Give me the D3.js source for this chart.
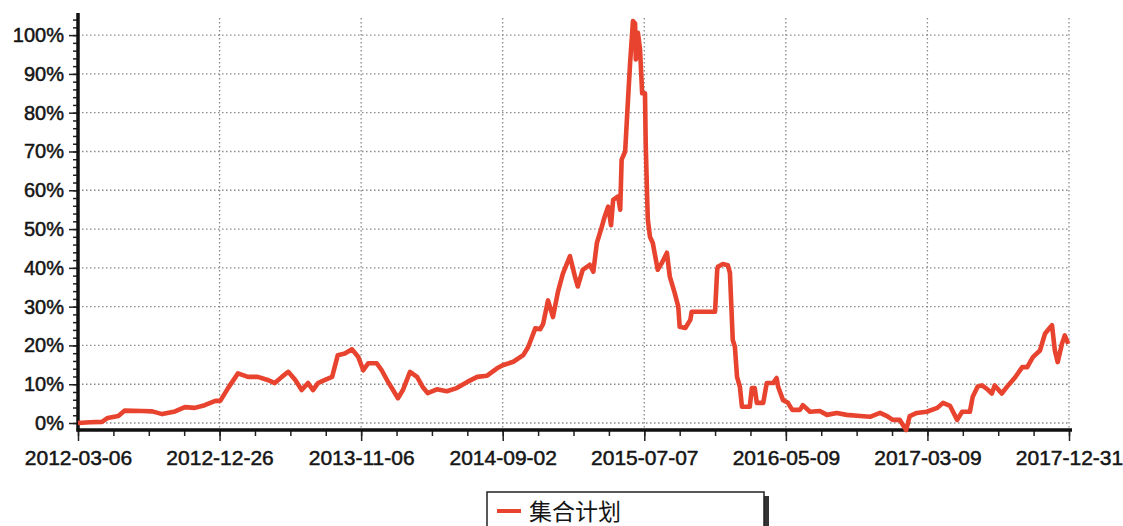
<!DOCTYPE html>
<html lang="zh">
<head>
<meta charset="utf-8">
<title>集合计划</title>
<script src="https://cdn.jsdelivr.net/npm/d3@7"></script>
<style>
body { margin: 0; background: #fff; }
svg { display: block; }
.tick text { font-family: "Liberation Sans", Arial, sans-serif; fill: #151515; stroke: #151515; stroke-width: 0.5; }
.grid line { stroke: #8a8a8a; stroke-width: 1.3; stroke-dasharray: 1.5,2.5; }
.line { fill: none; stroke: #e8432e; stroke-width: 4.6; stroke-linejoin: round; }
</style>
</head>
<body>
<script>

// trading-day index (0 = 2012-03-06, 1400 = 2017-12-31)
var days = [0, 17, 34, 42, 57, 66, 90, 105, 119, 137, 151, 165, 179, 194, 201, 212, 226, 240, 254, 268,
  278, 288, 297, 307, 316, 325, 332, 339, 349, 359, 367, 377, 387, 396, 403, 410, 422, 429, 438, 445,
  452, 459, 469, 479, 487, 494, 507, 521, 535, 550, 564, 578, 592, 600, 615, 629, 636, 646, 653, 657,
  664, 671, 678, 685, 695, 702, 706, 713, 723, 728, 733, 740, 744, 749, 753, 756, 763, 766, 768, 773,
  777, 780, 784, 787, 788, 791, 794, 797, 801, 802, 804, 805, 808, 812, 819, 825, 832, 836, 843, 848,
  850, 858, 865, 867, 900, 903, 904, 911, 918, 921, 925, 928, 931, 935, 938, 949, 952, 956, 959, 968,
  973, 982, 987, 989, 996, 1003, 1009, 1020, 1024, 1034, 1048, 1058, 1072, 1086, 1105, 1119, 1133, 1143, 1151, 1161,
  1170, 1175, 1185, 1199, 1214, 1222, 1232, 1242, 1249, 1260, 1264, 1271, 1277, 1284, 1291, 1295, 1305, 1314, 1324, 1334,
  1341, 1349, 1359, 1366, 1370, 1376, 1380, 1384, 1390, 1394, 1399];

// cumulative return, %
var returns = [0.0, 0.2, 0.3, 1.3, 1.8, 3.2, 3.1, 3.0, 2.3, 3.0, 4.1, 3.9, 4.6, 5.7, 5.7, 9.0, 12.8, 11.9, 11.9, 11.1,
  10.3, 11.9, 13.2, 11.1, 8.5, 10.3, 8.5, 10.3, 11.1, 11.9, 17.5, 17.9, 19.0, 17.0, 13.6, 15.4, 15.4, 13.6, 10.6, 8.5,
  6.4, 8.5, 13.2, 11.9, 9.3, 7.7, 8.7, 8.2, 9.0, 10.6, 11.9, 12.2, 14.1, 14.9, 15.8, 17.5, 19.6, 24.4, 24.2, 25.5,
  31.6, 27.3, 33.8, 38.5, 43.0, 37.8, 35.2, 39.5, 40.8, 39.0, 46.4, 50.6, 53.2, 55.8, 51.0, 57.5, 58.4, 55.0, 67.9, 70.0,
  83.4, 92.9, 103.6, 103.0, 93.7, 100.6, 96.3, 85.0, 85.0, 72.2, 58.4, 52.4, 48.0, 46.4, 39.5, 41.3, 43.9, 37.8, 33.5, 30.0,
  24.8, 24.5, 26.6, 28.7, 28.7, 39.5, 40.3, 41.0, 40.7, 38.7, 21.4, 19.7, 11.9, 9.4, 4.2, 4.2, 9.0, 9.0, 5.2, 5.2,
  10.3, 10.3, 11.6, 9.4, 5.9, 5.2, 3.4, 3.4, 4.6, 2.9, 3.1, 2.1, 2.6, 2.1, 1.8, 1.6, 2.6, 1.8, 0.8, 0.8,
  -1.8, 1.8, 2.6, 2.9, 3.9, 5.2, 4.4, 0.8, 2.9, 2.9, 6.8, 9.4, 9.7, 8.8, 7.6, 9.7, 7.6, 9.7, 11.8, 14.4,
  14.4, 17.0, 18.7, 23.0, 23.9, 25.2, 18.7, 15.7, 20.4, 22.6, 20.4];

var tickDays = [0, 200, 400, 600, 800, 1000, 1200, 1400];
var tickLabels = ["2012-03-06", "2012-12-26", "2013-11-06", "2014-09-02",
  "2015-07-07", "2016-05-09", "2017-03-09", "2017-12-31"];
var yTicks = [0, 10, 20, 30, 40, 50, 60, 70, 80, 90, 100];
var seriesName = "集合计划";

var width = 1123, height = 526;
var plotLeft = 78, plotRight = 1069, plotTop = 13, plotBottom = 430;

var svg = d3.select("body").append("svg")
  .attr("width", width)
  .attr("height", height);

var x = d3.scaleLinear().domain([0, 1400]).range([plotLeft, plotRight]);
var y = d3.scaleLinear().domain([-1.8, 105.7]).range([plotBottom, plotTop]);

// grid
svg.append("g").attr("class", "grid")
  .selectAll("line").data(yTicks).enter().append("line")
  .attr("x1", plotLeft).attr("x2", plotRight)
  .attr("y1", function(d) { return y(d); })
  .attr("y2", function(d) { return y(d); });

svg.append("g").attr("class", "grid")
  .selectAll("line").data(tickDays.slice(1)).enter().append("line")
  .attr("x1", function(d) { return x(d); })
  .attr("x2", function(d) { return x(d); })
  .attr("y1", 18).attr("y2", plotBottom);

// minor ticks
var yMinor = d3.axisLeft(y).tickValues(d3.range(0, 105, 2)).tickSize(5).tickFormat("");
svg.append("g").attr("transform", "translate(" + plotLeft + ",0)").call(yMinor)
  .call(function(g) { g.select(".domain").remove(); })
  .selectAll("line").attr("stroke", "#222").attr("stroke-width", 1.5);

var xMinor = d3.axisBottom(x).tickValues(d3.range(0, 1401, 50)).tickSize(6).tickFormat("");
svg.append("g").attr("transform", "translate(0," + plotBottom + ")").call(xMinor)
  .call(function(g) { g.select(".domain").remove(); })
  .selectAll("line").attr("stroke", "#222").attr("stroke-width", 1.5);

// major axes
var yAxis = d3.axisLeft(y).tickValues(yTicks).tickSize(9).tickPadding(5)
  .tickFormat(function(d) { return d + "%"; });
var gy = svg.append("g").attr("transform", "translate(" + plotLeft + ",0)").call(yAxis);
gy.selectAll(".tick text").attr("font-size", 20);
gy.selectAll(".tick line").attr("stroke", "#222").attr("stroke-width", 1.5);
gy.select(".domain").remove();

var xAxis = d3.axisBottom(x).tickValues(tickDays).tickSize(11).tickPadding(9)
  .tickFormat(function(d, i) { return tickLabels[i]; });
var gx = svg.append("g").attr("transform", "translate(0," + plotBottom + ")").call(xAxis);
gx.selectAll(".tick text").attr("font-size", 21);
gx.selectAll(".tick line").attr("stroke", "#222").attr("stroke-width", 1.5);
gx.select(".domain").remove();

// axis lines
svg.append("line").attr("x1", plotLeft).attr("x2", plotLeft).attr("y1", plotTop).attr("y2", plotBottom + 1.5)
  .attr("stroke", "#111").attr("stroke-width", 3.5);
svg.append("line").attr("x1", plotLeft - 1.5).attr("x2", plotRight + 3).attr("y1", plotBottom).attr("y2", plotBottom)
  .attr("stroke", "#111").attr("stroke-width", 3.5);

// series
var line = d3.line()
  .x(function(d, i) { return x(days[i]); })
  .y(function(d) { return y(d); });

svg.append("path").datum(returns).attr("class", "line").attr("d", line);

// legend
var lg = svg.append("g").attr("transform", "translate(487,492)");
lg.append("rect").attr("x", 4).attr("y", 4).attr("width", 278).attr("height", 40).attr("fill", "#333");
lg.append("rect").attr("x", 0).attr("y", 0).attr("width", 277).attr("height", 40)
  .attr("fill", "#fff").attr("stroke", "#222").attr("stroke-width", 1.5);
lg.append("line").attr("x1", 10).attr("x2", 34).attr("y1", 19).attr("y2", 19)
  .attr("stroke", "#e8432e").attr("stroke-width", 4);
lg.append("text").attr("x", 42).attr("y", 28)
  .attr("font-family", "'Noto Sans CJK SC', sans-serif").attr("font-size", 23)
  .attr("fill", "#151515").text(seriesName);

</script>
</body>
</html>
